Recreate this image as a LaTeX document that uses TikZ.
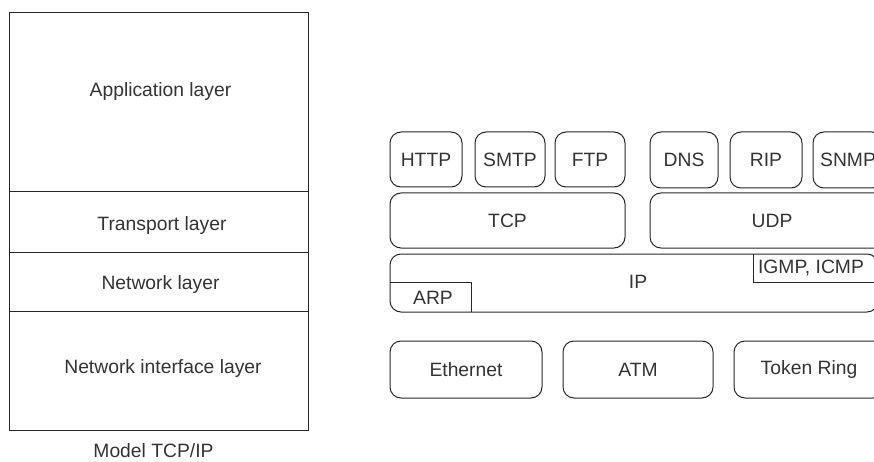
\documentclass[tikz,border=0pt]{standalone}
\usepackage{fontspec}
\setmainfont{Liberation Sans}
\begin{document}
\begin{tikzpicture}[x=1pt,y=-1pt,
  every node/.style={text=black!80, font=\fontsize{19.3}{22}\selectfont, inner sep=0pt},
  layerbox/.style={draw=black!85, line width=1pt, rectangle},
  rbox/.style={draw=black!85, line width=1pt, rectangle, rounded corners=11pt}]
\useasboundingbox (0,0) rectangle (874,462);
\clip (0,0) rectangle (874,462);
% left model
\node[layerbox, minimum width=299pt, minimum height=179pt] (app) at (158.5,102.2) {};
\node[layerbox, minimum width=299pt, minimum height=60.6pt] (trans) at (158.5,222) {};
\node[layerbox, minimum width=299pt, minimum height=59.4pt] (net) at (158.5,282) {};
\node[layerbox, minimum width=299pt, minimum height=118.3pt] (nif) at (158.5,370.85) {};
\node (tapp) at (160.5,91.5) {Application layer};
\node (ttrans) at (162,226) {Transport layer};
\node (tnet) at (160.5,285) {Network layer};
\node (tnif) at (163,369) {Network interface layer};
\node (model) at (153.5,450.5) {Model TCP/IP};
% application protocols
\node[rbox, minimum width=72pt, minimum height=55pt] (http) at (426,159.5) {HTTP};
\node[rbox, minimum width=70pt, minimum height=55pt] (smtp) at (510,159.5) {SMTP};
\node[rbox, minimum width=70pt, minimum height=55pt] (ftp) at (590,159.5) {FTP};
\node[rbox, minimum width=68pt, minimum height=56pt, text depth=-2pt] (dns) at (684,160) {DNS};
\node[rbox, minimum width=72pt, minimum height=56pt, text depth=-2pt] (rip) at (766,160) {RIP};
\node[rbox, minimum width=70pt, minimum height=56pt, text depth=-2pt] (snmp) at (848,160) {SNMP};
% transport
\node[rbox, minimum width=235pt, minimum height=55pt, text depth=-2pt] (tcp) at (507.5,220.5) {TCP};
\node[rbox, minimum width=244pt, minimum height=55pt, text depth=-2pt] (udp) at (772,220.5) {UDP};
% network
\node[rbox, minimum width=488pt, minimum height=58pt] (ip) at (634,283) {};
\node (tip) at (638,282) {IP};
\draw[line width=1pt, draw=black!85] (ip.west |- 0,282) -| (471,312);
\node (arp) at (433,298) {ARP};
\draw[line width=1pt, draw=black!85] (753,254) |- (ip.east |- 0,282);
\node (igmp) at (811,268) {IGMP, ICMP};
% link
\node[rbox, minimum width=152pt, minimum height=57pt] (eth) at (466,369.5) {Ethernet};
\node[rbox, minimum width=150pt, minimum height=57pt] (atm) at (638,369.5) {ATM};
\node[rbox, minimum width=150pt, minimum height=57pt] (tok) at (809,369.5) {Token Ring};
\end{tikzpicture}
\end{document}
